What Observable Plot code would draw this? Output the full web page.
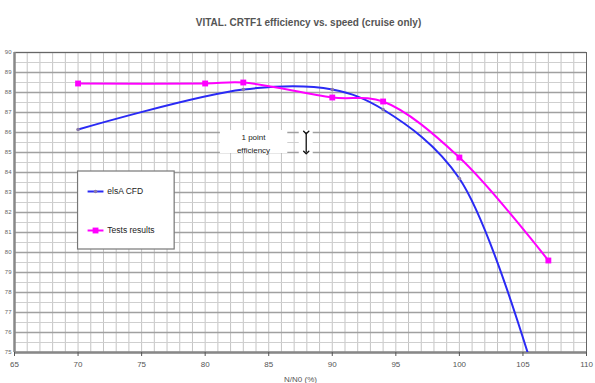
<!DOCTYPE html>
<html>
<head>
<meta charset="utf-8">
<script src="https://cdn.jsdelivr.net/npm/d3@7"></script>
<script src="https://cdn.jsdelivr.net/npm/@observablehq/plot@0.6"></script>
<style>
  html, body { margin: 0; padding: 0; background: #fff; }
  #chart svg { display: block; }
</style>
</head>
<body>
<div id="chart"></div>
<script>
// ---- data ----
const titleText = "VITAL. CRTF1 efficiency vs. speed (cruise only)";
const xLabel = "N/N0 (%)";
const cfdSpeed = [70, 83, 90, 94, 100, 107];
const cfdEff   = [86.15, 88.15, 88.15, 87.15, 83.7, 71.5];
const testSpeed = [70, 80, 83, 90, 94, 100, 107];
const testEff   = [88.45, 88.45, 88.5, 87.75, 87.55, 84.75, 79.6];
const xTicks = [65, 70, 75, 80, 85, 90, 95, 100, 105, 110];
const yTicks = [75, 76, 77, 78, 79, 80, 81, 82, 83, 84, 85, 86, 87, 88, 89, 90];
const seriesNames = ["elsA CFD", "Tests results"];
const noteLines = ["1 point", "efficiency"];

const cfd = cfdSpeed.map((s, i) => ({speed: s, eff: cfdEff[i]}));
const test = testSpeed.map((s, i) => ({speed: s, eff: testEff[i]}));

const minorX = d3.range(65, 110.01, 1);
const majorY = d3.range(75, 90.01, 1);
const minorY = d3.range(75.5, 90, 1);

// annotation / legend placement in data units
const noteBox = [{x1: 81.2, x2: 86.5, y1: 84.95, y2: 86.1}];
const noteText = [{x: 83.8, y: 85.75, t: noteLines[0]}, {x: 83.8, y: 85.12, t: noteLines[1]}];
const noteArrow = [{x: 87.95, y1: 86.0, y2: 85.0}];
const legendBox = [{x1: 70, x2: 77.6, y1: 80.15, y2: 84.05}];
const legendLines = [
  {x1: 70.75, x2: 72.0, y: 83.05, name: seriesNames[0], color: "#2a2af5"},
  {x1: 70.75, x2: 72.0, y: 81.1, name: seriesNames[1], color: "#ff00ff"}
];

const font = "'Liberation Sans', Arial, sans-serif";

const plot = Plot.plot({
  width: 595,
  height: 383,
  marginLeft: 14,
  marginRight: 9,
  marginTop: 52,
  marginBottom: 31,
  style: {fontFamily: font, background: "#fff"},
  x: {domain: [65, 110]},
  y: {domain: [75, 90]},
  marks: [
    // grid
    Plot.ruleX(minorX, {stroke: "#c4c4c4", strokeWidth: 1}),
    Plot.ruleY(minorY, {stroke: "#cfcfcf", strokeWidth: 1}),
    Plot.ruleY(majorY, {stroke: "#a0a0a0", strokeWidth: 1.3}),
    Plot.frame({stroke: "#666", strokeWidth: 1}),
    Plot.ruleX([65], {stroke: "#888", strokeWidth: 2.5}),
    Plot.ruleY([75], {stroke: "#888", strokeWidth: 2.5}),
    // axes
    Plot.axisX({ticks: xTicks, tickSize: 4, tickPadding: 5, fontSize: 8, stroke: "#555", color: "#555",
      tickFormat: d => String(d), label: xLabel, labelAnchor: "center", labelArrow: "none", labelOffset: 29}),
    Plot.axisY({ticks: yTicks, tickSize: 0, tickPadding: 3, fontSize: 6, color: "#666", tickFormat: d => String(d), label: null}),
    // title
    Plot.text([titleText], {frameAnchor: "top", dy: -34, dx: 8, fontSize: 10, fontWeight: "bold", fill: "#555"}),
    // series
    Plot.line(cfd, {x: "speed", y: "eff", stroke: "#2a2af5", strokeWidth: 2, curve: "catmull-rom", clip: true}),
    Plot.dot(cfd, {x: "speed", y: "eff", r: 1.8, fill: "#8a7aa8", stroke: "none", clip: true}),
    Plot.line(test, {x: "speed", y: "eff", stroke: "#ff00ff", strokeWidth: 2, curve: "catmull-rom"}),
    Plot.dot(test, {x: "speed", y: "eff", symbol: "square", r: 3.3, fill: "#ff00ff", stroke: "none"}),
    // annotation
    Plot.rect(noteBox, {x1: "x1", x2: "x2", y1: "y1", y2: "y2", fill: "#fff"}),
    Plot.text(noteText, {x: "x", y: "y", text: "t", fontSize: 8, fill: "#222"}),
    Plot.rect(noteBox.map(d => ({x1: 87.4, x2: 88.5, y1: 84.9, y2: 86.1})), {x1: "x1", x2: "x2", y1: "y1", y2: "y2", fill: "#fff"}),
    Plot.link(noteArrow, {x1: "x", x2: "x", y1: "y1", y2: "y2", stroke: "#111", strokeWidth: 1.3, markerStart: "arrow", markerEnd: "arrow"}),
    // legend
    Plot.rect(legendBox, {x1: "x1", x2: "x2", y1: "y1", y2: "y2", fill: "#fff", stroke: "#777", strokeWidth: 1.2}),
    Plot.link(legendLines, {x1: "x1", x2: "x2", y1: "y", y2: "y", stroke: "color", strokeWidth: 2}),
    Plot.dot([legendLines[0]], {x: d => (d.x1 + d.x2) / 2, y: "y", r: 1.8, fill: "#8a7aa8"}),
    Plot.dot([legendLines[1]], {x: d => (d.x1 + d.x2) / 2, y: "y", symbol: "square", r: 3.3, fill: "#ff00ff"}),
    Plot.text(legendLines, {x: d => d.x2 + 0.3, y: "y", text: "name", textAnchor: "start", fontSize: 8.5, fill: "#222"})
  ]
});
document.getElementById("chart").appendChild(plot);
</script>
</body>
</html>
